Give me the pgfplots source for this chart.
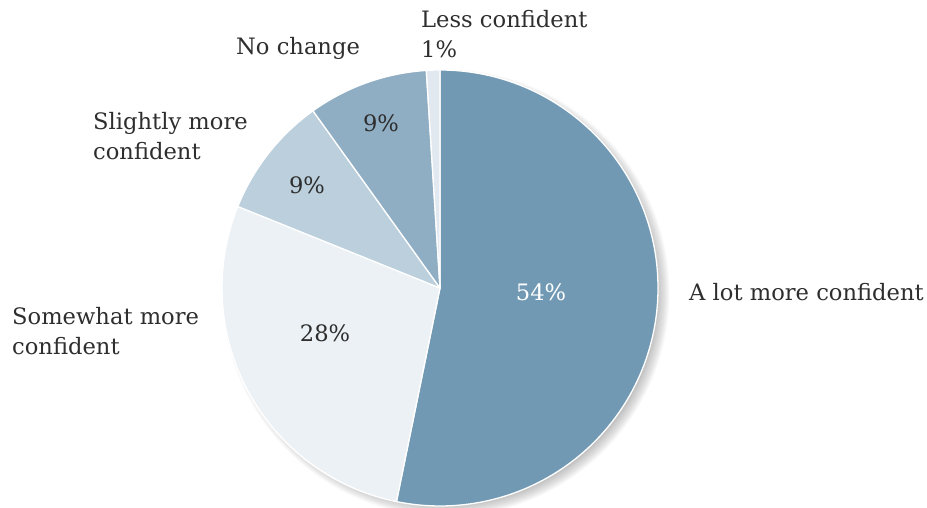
\documentclass[border=0pt]{standalone}
\usepackage{fontspec}
\setmainfont{DejaVu Serif}
\usepackage{pgfplots}
\usepackage{pgfplotstable}
\pgfplotsset{compat=1.18}
\definecolor{cLot}{HTML}{7199B3}
\definecolor{cSome}{HTML}{ECF1F5}
\definecolor{cSlight}{HTML}{BBCFDC}
\definecolor{cNo}{HTML}{8FADC3}
\definecolor{cLess}{HTML}{E1E8EF}
\definecolor{txt}{HTML}{2E2E2E}
\tikzset{lbl/.style={font=\fontsize{22.7}{30}\selectfont, text=txt, inner sep=0pt}}

% share of the circle (degrees/3.6), printed percentage, colour
\pgfplotstableread{
value pct color
53.2 54 cLot
27.9 28 cSome
9.0  9  cSlight
8.9  9  cNo
1.0  1  cLess
}\piedata

\begin{document}
\begin{tikzpicture}
\path[use as bounding box] (0,0) rectangle (927bp,508bp);
\begin{axis}[
  at={(0,0)}, anchor=south west,
  scale only axis, width=927bp, height=508bp,
  xmin=0, xmax=927, ymin=0, ymax=508,
  hide axis, clip=false,
]
\pgfplotsextra{%
  % soft shadow, off to the lower right
  \foreach \k in {1,...,14} {%
    \fill[black, opacity=0.02] (axis cs:446,215) circle[radius={211bp+\k*0.9bp}];
  }%
  \gdef\angA{90}%
  \pgfplotstableforeachcolumnelement{value}\of\piedata\as\v{%
    \pgfplotstablegetelem{\pgfplotstablerow}{color}\of\piedata
    \let\col\pgfplotsretval
    \pgfmathsetmacro\angB{\angA-3.6*\v}%
    \fill[\col, draw=white, line width=1.3bp, line join=round]
      (axis cs:440,220) -- ++(\angA:218bp)
      arc[start angle=\angA, end angle=\angB, radius=218bp] -- cycle;
    \xdef\angA{\angB}%
  }%
}
\node[lbl, text=white] at (axis cs:541,216) {54\%};
\node[lbl] at (axis cs:325,175) {28\%};
\node[lbl] at (axis cs:307,323) {9\%};
\node[lbl] at (axis cs:381,385) {9\%};
\node[lbl, anchor=west] at (axis cs:689,216) {A lot more confident};
\node[lbl, anchor=west, align=left] at (axis cs:12,177) {Somewhat more\\confident};
\node[lbl, anchor=west, align=left] at (axis cs:93,372) {Slightly more\\confident};
\node[lbl, anchor=west] at (axis cs:236,460) {No change};
\node[lbl, anchor=west, align=left] at (axis cs:421,474) {Less confident\\1\%};
\end{axis}
\end{tikzpicture}
\end{document}
